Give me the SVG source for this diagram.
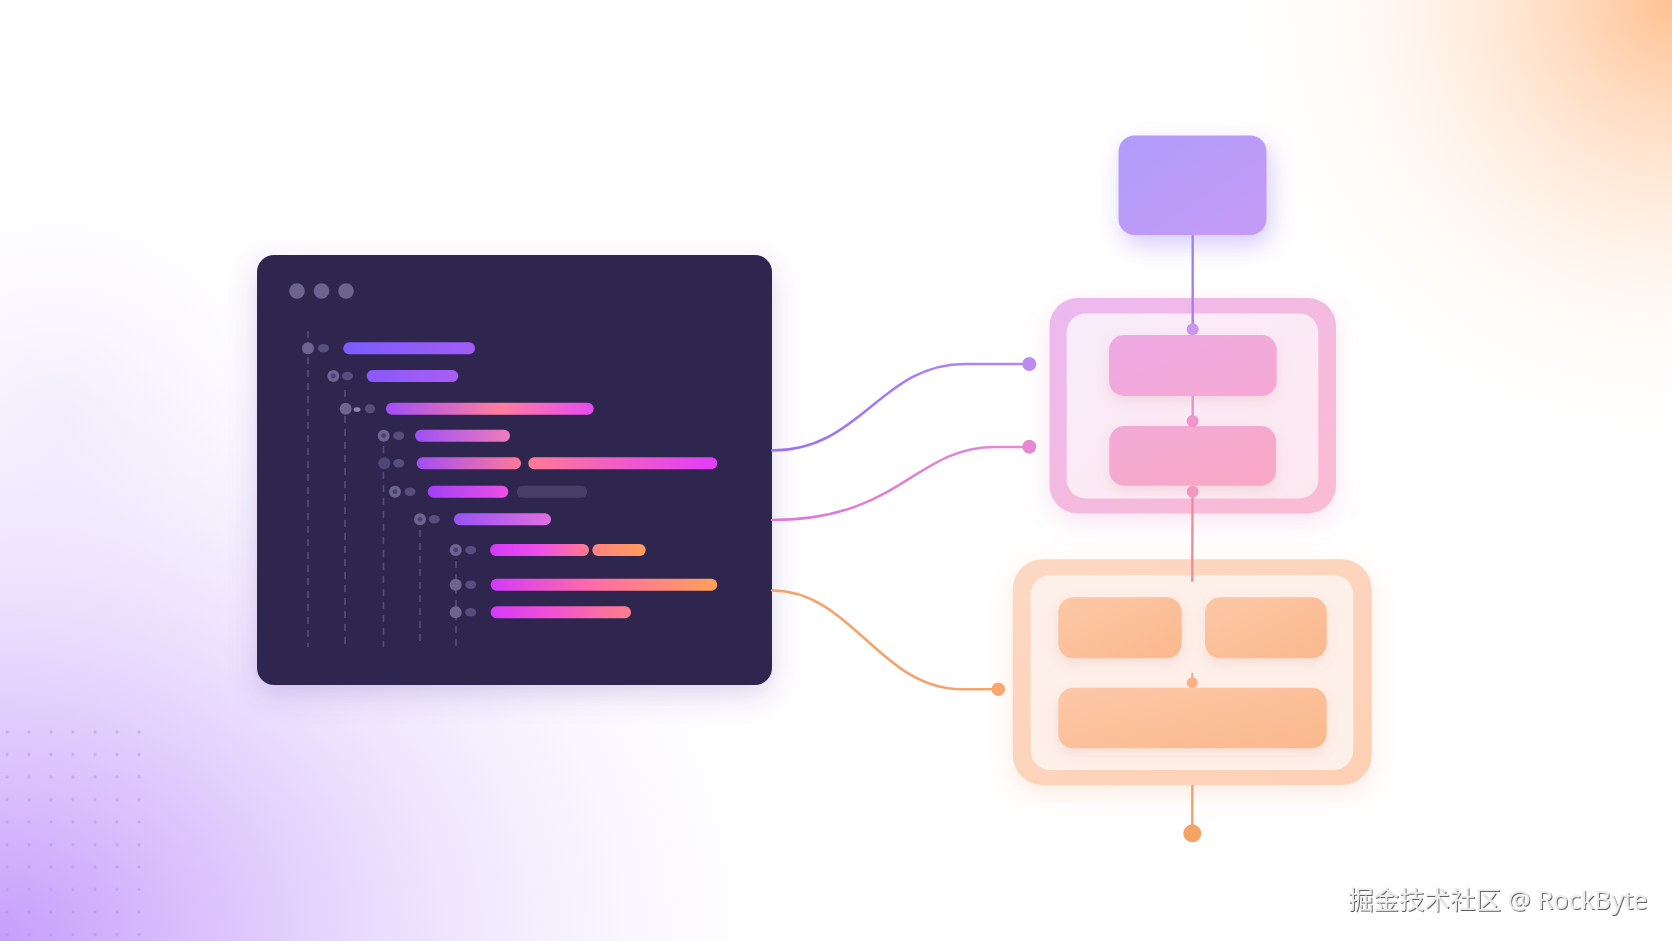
<svg xmlns="http://www.w3.org/2000/svg" width="1672" height="941" viewBox="0 0 1672 941">
<defs>
<style>
.dash{stroke:#564e7c;stroke-width:1.6;stroke-dasharray:7 6;fill:none}
.knob{fill:#6c6590}
.knobin{fill:#4a4370}
.oval{fill:#57507c}
.bar{rx:6;ry:6}
.conn{fill:none;stroke-width:2.6;stroke-linecap:round}
.wm{font-family:"Noto Sans","Noto Sans CJK SC",sans-serif;font-size:25.5px;fill:#ececec}
</style>
<radialGradient id="bgOrange" gradientUnits="userSpaceOnUse" cx="1672" cy="0" r="470" gradientTransform="translate(1672 0) scale(1 1.02) translate(-1672 0)">
<stop offset="0" stop-color="#ffba86" stop-opacity="0.9"/>
<stop offset="0.3" stop-color="#ffcba4" stop-opacity="0.55"/>
<stop offset="0.65" stop-color="#ffe4d0" stop-opacity="0.22"/>
<stop offset="1" stop-color="#fff" stop-opacity="0"/>
</radialGradient>
<radialGradient id="bgPurple" gradientUnits="userSpaceOnUse" cx="0" cy="941" r="860" gradientTransform="translate(0 941) scale(1 0.82) translate(0 -941)">
<stop offset="0" stop-color="#c69efb"/>
<stop offset="0.3" stop-color="#dcc4fc" stop-opacity="0.9"/>
<stop offset="0.65" stop-color="#ece2fd" stop-opacity="0.5"/>
<stop offset="1" stop-color="#fff" stop-opacity="0"/>
</radialGradient>
<radialGradient id="bgHaze" gradientUnits="userSpaceOnUse" cx="60" cy="420" r="320">
<stop offset="0" stop-color="#ece2fc" stop-opacity="0.6"/>
<stop offset="1" stop-color="#fff" stop-opacity="0"/>
</radialGradient>
<filter id="winShadow" x="-20%" y="-20%" width="140%" height="150%">
<feDropShadow dx="0" dy="10" stdDeviation="14" flood-color="#5a3fa8" flood-opacity="0.22"/>
</filter>
<filter id="boxShadow" x="-30%" y="-30%" width="160%" height="170%">
<feDropShadow dx="4" dy="10" stdDeviation="12" flood-color="#8c6cf0" flood-opacity="0.35"/>
</filter>
<filter id="pinkShadow" x="-20%" y="-20%" width="140%" height="150%">
<feDropShadow dx="0" dy="8" stdDeviation="12" flood-color="#e890c8" flood-opacity="0.25"/>
</filter>
<filter id="orangeShadow" x="-20%" y="-20%" width="140%" height="150%">
<feDropShadow dx="0" dy="8" stdDeviation="12" flood-color="#f4a070" flood-opacity="0.22"/>
</filter>
<filter id="innerShadow" x="-20%" y="-30%" width="140%" height="170%">
<feDropShadow dx="0" dy="5" stdDeviation="6" flood-color="#d08080" flood-opacity="0.18"/>
</filter>
<filter id="knobBlur" x="-50%" y="-50%" width="200%" height="200%">
<feGaussianBlur stdDeviation="0.5"/>
</filter>
<filter id="emboss" x="-5%" y="-30%" width="110%" height="160%">
<feDropShadow dx="1" dy="1" stdDeviation="0.6" flood-color="#444" flood-opacity="0.85"/>
</filter>
<linearGradient id="gTop" x1="0" y1="0" x2="1" y2="1"><stop offset="0" stop-color="#b09cfa"/><stop offset="1" stop-color="#c59af6"/></linearGradient>
<linearGradient id="gPinkRing" x1="0" y1="0" x2="1" y2="1"><stop offset="0" stop-color="#ecb8f0"/><stop offset="1" stop-color="#fbbcd0"/></linearGradient>
<linearGradient id="gPinkIn" x1="0" y1="0" x2="1" y2="1"><stop offset="0" stop-color="#f8ecfa"/><stop offset="1" stop-color="#fde8ef"/></linearGradient>
<linearGradient id="gPinkBox1" x1="0" y1="0" x2="1" y2="1"><stop offset="0" stop-color="#eeaae4"/><stop offset="1" stop-color="#f6a8d4"/></linearGradient>
<linearGradient id="gPinkBox2" x1="0" y1="0" x2="1" y2="1"><stop offset="0" stop-color="#f2aad6"/><stop offset="1" stop-color="#f9a8c4"/></linearGradient>
<linearGradient id="gOrRing" x1="0" y1="0" x2="1" y2="1"><stop offset="0" stop-color="#fcd8c4"/><stop offset="1" stop-color="#fdd0b4"/></linearGradient>
<linearGradient id="gOrBox" x1="0" y1="0" x2="1" y2="1"><stop offset="0" stop-color="#fcc8a8"/><stop offset="1" stop-color="#fbb88c"/></linearGradient>
<linearGradient id="gC1" x1="0" y1="0" x2="1" y2="0"><stop offset="0" stop-color="#9a70f2"/><stop offset="1" stop-color="#b488f2"/></linearGradient>
<linearGradient id="gC2" x1="0" y1="0" x2="1" y2="0"><stop offset="0" stop-color="#d878d6"/><stop offset="1" stop-color="#e68ad0"/></linearGradient>
<linearGradient id="b1"><stop offset="0" stop-color="#7a5cff"/><stop offset="1" stop-color="#a25cf6"/></linearGradient>
<linearGradient id="b2"><stop offset="0" stop-color="#8a58fa"/><stop offset="1" stop-color="#a85ef3"/></linearGradient>
<linearGradient id="b3"><stop offset="0" stop-color="#a24ef5"/><stop offset="0.55" stop-color="#ff7e9e"/><stop offset="1" stop-color="#e64cf0"/></linearGradient>
<linearGradient id="b4"><stop offset="0" stop-color="#9c50f5"/><stop offset="1" stop-color="#f07cbc"/></linearGradient>
<linearGradient id="b5a"><stop offset="0" stop-color="#a24ef5"/><stop offset="1" stop-color="#ff7a98"/></linearGradient>
<linearGradient id="b5b"><stop offset="0" stop-color="#ff7a96"/><stop offset="1" stop-color="#e23cfa"/></linearGradient>
<linearGradient id="b6"><stop offset="0" stop-color="#a040f5"/><stop offset="1" stop-color="#ee4ee6"/></linearGradient>
<linearGradient id="b7"><stop offset="0" stop-color="#9a52f5"/><stop offset="1" stop-color="#e070e0"/></linearGradient>
<linearGradient id="b8a"><stop offset="0" stop-color="#d43af8"/><stop offset="0.5" stop-color="#ee4eea"/><stop offset="1" stop-color="#ff7a8c"/></linearGradient>
<linearGradient id="b8b"><stop offset="0" stop-color="#ff8282"/><stop offset="1" stop-color="#ff9e5a"/></linearGradient>
<linearGradient id="b9"><stop offset="0" stop-color="#d43af8"/><stop offset="0.45" stop-color="#ff6ca6"/><stop offset="1" stop-color="#ffa05a"/></linearGradient>
<linearGradient id="b10"><stop offset="0" stop-color="#d43af8"/><stop offset="0.4" stop-color="#f04ed8"/><stop offset="1" stop-color="#ff8088"/></linearGradient>
<pattern id="dots" x="7" y="732" width="22" height="22.5" patternUnits="userSpaceOnUse">
<circle cx="0" cy="0" r="1.6" fill="#a78ae0" fill-opacity="0.45"/>
<circle cx="22" cy="0" r="1.6" fill="#a78ae0" fill-opacity="0.45"/>
<circle cx="0" cy="22.5" r="1.6" fill="#a78ae0" fill-opacity="0.45"/>
<circle cx="22" cy="22.5" r="1.6" fill="#a78ae0" fill-opacity="0.45"/>
</pattern>
</defs>

<g id="background">
<rect width="1672" height="941" fill="#ffffff"/>
<rect width="1672" height="941" fill="url(#bgHaze)"/>
<rect width="1672" height="941" fill="url(#bgPurple)"/>
<rect width="1672" height="941" fill="url(#bgOrange)"/>
<rect x="4" y="729" width="140" height="212" fill="url(#dots)"/>
</g>

<g id="code-window">
<rect x="257" y="255" width="515" height="430" rx="17" fill="#2f2850" filter="url(#winShadow)"/>
<circle cx="297" cy="291" r="7.8" fill="#6b6490"/>
<circle cx="321.5" cy="291" r="7.8" fill="#6b6490"/>
<circle cx="346" cy="291" r="7.8" fill="#6b6490"/>
<line class="dash" x1="308" y1="331" x2="308" y2="647"/>
<line class="dash" x1="345" y1="390" x2="345" y2="647"/>
<line class="dash" x1="383.5" y1="446" x2="383.5" y2="647"/>
<line class="dash" x1="420" y1="530" x2="420" y2="647"/>
<line class="dash" x1="456" y1="561" x2="456" y2="647"/>

<g filter="url(#knobBlur)">
<circle class="knob" cx="308" cy="348.3" r="6"/><ellipse class="oval" cx="323.5" cy="348.3" rx="5.5" ry="4.2"/>
<circle class="knob" cx="333.3" cy="376" r="6"/><circle class="knobin" cx="333.3" cy="376" r="2.4"/><ellipse class="oval" cx="347.5" cy="376" rx="5.5" ry="4.2"/>
<circle class="knob" cx="345.7" cy="408.7" r="6"/><ellipse cx="357" cy="409.5" rx="3.5" ry="2.3" fill="#8d87ab"/><ellipse class="oval" cx="370" cy="408.7" rx="5" ry="4.5"/>
<circle class="knob" cx="383.7" cy="435.7" r="6"/><circle class="knobin" cx="383.7" cy="435.7" r="2.4"/><ellipse class="oval" cx="398.7" cy="435.7" rx="5.5" ry="4.2"/>
<circle cx="384.3" cy="463.3" r="6" fill="#4f4775"/><ellipse class="oval" cx="398.7" cy="463.3" rx="5.5" ry="4.2"/>
<circle class="knob" cx="395" cy="491.7" r="6"/><circle class="knobin" cx="395" cy="491.7" r="2.4"/><ellipse class="oval" cx="410" cy="491.7" rx="5.5" ry="4.2"/>
<circle class="knob" cx="420" cy="519.3" r="6"/><circle class="knobin" cx="420" cy="519.3" r="2.4"/><ellipse class="oval" cx="434.3" cy="519.3" rx="5.5" ry="4.2"/>
<circle class="knob" cx="455.7" cy="550" r="6"/><circle class="knobin" cx="455.7" cy="550" r="2.4"/><ellipse class="oval" cx="470.7" cy="550" rx="5.5" ry="4.2"/>
<circle class="knob" cx="455.7" cy="584.7" r="6"/><ellipse class="oval" cx="470.7" cy="584.7" rx="5.5" ry="4.2"/>
<circle class="knob" cx="455.7" cy="612.3" r="6"/><ellipse class="oval" cx="470.7" cy="612.3" rx="5.5" ry="4.2"/>
</g>

<rect class="bar" x="343.3" y="342.3" width="131.7" height="12" fill="url(#b1)"/>
<rect class="bar" x="366.7" y="370" width="91.6" height="12" fill="url(#b2)"/>
<rect class="bar" x="386" y="402.7" width="207.7" height="12" fill="url(#b3)"/>
<rect class="bar" x="415" y="429.7" width="95" height="12" fill="url(#b4)"/>
<rect class="bar" x="416.7" y="457.3" width="104.3" height="12" fill="url(#b5a)"/>
<rect class="bar" x="528.3" y="457.3" width="189" height="12" fill="url(#b5b)"/>
<rect class="bar" x="427.7" y="485.7" width="80.6" height="12" fill="url(#b6)"/>
<rect class="bar" x="516.7" y="485.7" width="70.6" height="12" fill="#463e68"/>
<rect class="bar" x="454" y="513.3" width="97" height="12" fill="url(#b7)"/>
<rect class="bar" x="490" y="544" width="99" height="12" fill="url(#b8a)"/>
<rect class="bar" x="592.3" y="544" width="53.4" height="12" fill="url(#b8b)"/>
<rect class="bar" x="490.7" y="578.7" width="226.6" height="12" fill="url(#b9)"/>
<rect class="bar" x="490.7" y="606.3" width="140.3" height="12" fill="url(#b10)"/>
</g>

<g id="node-top">
<rect x="1118.5" y="135.5" width="148" height="99.5" rx="16" fill="url(#gTop)" filter="url(#boxShadow)"/>
</g>

<g id="node-pink">
<rect x="1049.5" y="298" width="286.5" height="215.5" rx="28" fill="url(#gPinkRing)" filter="url(#pinkShadow)"/>
<rect x="1066.7" y="313.5" width="251.6" height="185" rx="19" fill="url(#gPinkIn)"/>
<rect x="1109" y="335" width="167.7" height="61" rx="15" fill="url(#gPinkBox1)" filter="url(#innerShadow)"/>
<rect x="1109.3" y="426" width="166.7" height="59.7" rx="15" fill="url(#gPinkBox2)" filter="url(#innerShadow)"/>
</g>

<g id="node-orange">
<rect x="1012.7" y="559.3" width="359" height="225.7" rx="30" fill="url(#gOrRing)" filter="url(#orangeShadow)"/>
<rect x="1030.7" y="575" width="322.6" height="195" rx="20" fill="#fdf0e9"/>
<rect x="1058.3" y="597.3" width="123.4" height="61" rx="15" fill="url(#gOrBox)" filter="url(#innerShadow)"/>
<rect x="1205" y="597.3" width="121.7" height="61" rx="15" fill="url(#gOrBox)" filter="url(#innerShadow)"/>
<rect x="1058.3" y="687.7" width="268.4" height="60.6" rx="15" fill="url(#gOrBox)" filter="url(#innerShadow)"/>
</g>

<g id="connectors">
<path class="conn" d="M772 450.5 C862 450.5 880 364 965 364 L1029 364" stroke="url(#gC1)"/>
<circle cx="1029.3" cy="364" r="7" fill="#bb8cf2"/>
<path class="conn" d="M772 520 C900 520 915 447 995 447 L1029 447" stroke="url(#gC2)"/>
<circle cx="1029.3" cy="446.7" r="7" fill="#e68ad0"/>
<path class="conn" d="M772 590.5 C852 590.5 880 689.3 962 689.3 L998 689.3" stroke="#f4a36c"/>
<circle cx="998.3" cy="689.3" r="6.8" fill="#f6a86e"/>

<line x1="1192.7" y1="235" x2="1192.7" y2="329" stroke="#a67cf3" stroke-width="2.4"/>
<circle cx="1192.7" cy="329.3" r="6" fill="#c896ee"/>
<line x1="1192.7" y1="396" x2="1192.7" y2="421" stroke="#e890cc" stroke-width="2.4"/>
<circle cx="1192.7" cy="421" r="6" fill="#ee96cc"/>
<circle cx="1192.7" cy="491.7" r="6" fill="#f298c0"/>
<line x1="1192.5" y1="497" x2="1192.3" y2="581.7" stroke="#ee8c9c" stroke-width="2.4"/>
<line x1="1192.3" y1="673" x2="1192.3" y2="683" stroke="#f6aa82" stroke-width="2"/>
<circle cx="1192.3" cy="682.7" r="5.5" fill="#f8b08a"/>
<line x1="1192.3" y1="785" x2="1192.3" y2="828" stroke="#f4a06a" stroke-width="2.4"/>
<circle cx="1192.3" cy="833.3" r="9" fill="#f5a265"/>
</g>

<text class="wm" x="1348" y="909" filter="url(#emboss)">掘金技术社区 @ RockByte</text>
</svg>
